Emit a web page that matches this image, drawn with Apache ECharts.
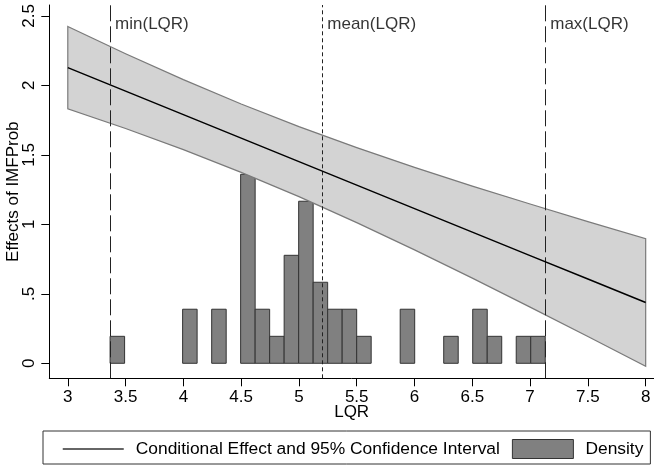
<!DOCTYPE html>
<html>
<head>
<meta charset="utf-8">
<script src="https://cdn.jsdelivr.net/npm/echarts@6/dist/echarts.min.js"></script>
<style>
html,body{margin:0;padding:0;background:#fff;}
#chart{width:654px;height:466px;}
</style>
</head>
<body>
<div id="chart"></div>
<script>
// ---- data ----
const lqrGrid  = [3, 3.5, 4, 4.5, 5, 5.5, 6, 6.5, 7, 7.5, 8];
const effect   = [2.127, 1.958, 1.789, 1.620, 1.451, 1.282, 1.113, 0.944, 0.775, 0.606, 0.437];
const ciUpper  = [2.423, 2.227, 2.041, 1.866, 1.703, 1.552, 1.410, 1.275, 1.146, 1.019, 0.896];
const ciLower  = [1.831, 1.689, 1.537, 1.374, 1.199, 1.012, 0.816, 0.613, 0.404, 0.193, -0.022];

const binLeft  = [3.366, 3.9935, 4.245, 4.4955, 4.621, 4.7465, 4.872, 4.9975, 5.123, 5.2485, 5.374, 5.4995, 5.876, 6.2525, 6.5035, 6.629, 6.88, 7.0055];
const binRight = [3.4915, 4.119, 4.3705, 4.621, 4.7465, 4.872, 4.9975, 5.123, 5.2485, 5.374, 5.4995, 5.625, 6.0015, 6.378, 6.629, 6.7545, 7.0055, 7.131];
const density  = [0.194, 0.389, 0.389, 1.360, 0.389, 0.194, 0.777, 1.166, 0.583, 0.389, 0.389, 0.194, 0.389, 0.194, 0.389, 0.194, 0.194, 0.194];

const refValues = [3.366, 5.202, 7.131];
const refLabels = ['min(LQR)', 'mean(LQR)', 'max(LQR)'];
const refLabelY = 2.44;

const xTicks      = [3, 3.5, 4, 4.5, 5, 5.5, 6, 6.5, 7, 7.5, 8];
const xTickLabels = ['3', '3.5', '4', '4.5', '5', '5.5', '6', '6.5', '7', '7.5', '8'];
const yTicks      = [0, 0.5, 1, 1.5, 2, 2.5];
const yTickLabels = ['0', '.5', '1', '1.5', '2', '2.5'];

const lineName = 'Conditional Effect and 95% Confidence Interval';
const densName = 'Density';

// ---- chart ----
const FONT = '"Liberation Sans", Arial, sans-serif';
const chart = echarts.init(document.getElementById('chart'), null, {renderer: 'canvas'});

const xLabelMap = {}; xTicks.forEach((v, i) => xLabelMap[v] = xTickLabels[i]);
const yLabelMap = {}; yTicks.forEach((v, i) => yLabelMap[v] = yTickLabels[i]);

const option = {
  animation: false,
  backgroundColor: '#fff',
  textStyle: {fontFamily: FONT},
  grid: {left: 49.3, right: 0, top: 5, bottom: 87.7, containLabel: false, outerBoundsMode: 'none'},
  xAxis: {
    type: 'value', min: 2.84, max: 8.072,
    axisLine: {show: true, onZero: false, lineStyle: {color: '#000', width: 1}},
    axisTick: {show: true, customValues: xTicks, length: 8, lineStyle: {color: '#000'}},
    axisLabel: {customValues: xTicks, formatter: v => xLabelMap[v] ?? v, fontSize: 17, color: '#000', fontFamily: FONT, margin: 11, hideOverlap: false},
    splitLine: {show: false},
    name: 'LQR', nameLocation: 'middle', nameGap: 26, nameMoveOverlap: false,
    nameTextStyle: {fontSize: 17, color: '#000', fontFamily: FONT}
  },
  yAxis: {
    type: 'value', min: -0.108, max: 2.578,
    axisLine: {show: true, onZero: false, lineStyle: {color: '#000', width: 1}},
    axisTick: {show: true, customValues: yTicks, length: 8, lineStyle: {color: '#000'}},
    axisLabel: {customValues: yTicks, formatter: v => yLabelMap[v] ?? v, rotate: 90, fontSize: 17, color: '#000', fontFamily: FONT, margin: 11},
    splitLine: {show: false},
    name: 'Effects of IMFProb', nameLocation: 'middle', nameGap: 27, nameRotate: 90, nameMoveOverlap: false,
    nameTextStyle: {fontSize: 17, color: '#000', fontFamily: FONT}
  },
  legend: {
    left: 43, top: 431,
    orient: 'horizontal',
    itemWidth: 61, itemHeight: 19, itemGap: 12,
    padding: [8, 7, 5, 19],
    borderColor: '#333', borderWidth: 1,
    selectedMode: false,
    textStyle: {fontSize: 17.4, color: '#000', fontFamily: FONT, padding: [0, 0, 0, 7]},
    data: [
      {name: lineName, itemStyle: {opacity: 0}, lineStyle: {color: '#333', width: 1.5}},
      {name: densName, icon: 'rect', itemStyle: {color: '#808080', borderColor: '#333', borderWidth: 1}}
    ]
  },
  series: [
    {
      name: densName,
      type: 'custom',
      z: 2,
      itemStyle: {color: '#808080', borderColor: '#333', borderWidth: 1},
      data: binLeft.map((l, i) => [l, binRight[i], density[i]]),
      encode: {x: [0, 1], y: 2},
      renderItem: function (params, api) {
        const p0 = api.coord([api.value(0), 0]);
        const p1 = api.coord([api.value(1), api.value(2)]);
        return {
          type: 'rect',
          shape: {x: p0[0], y: p1[1], width: p1[0] - p0[0], height: p0[1] - p1[1]},
          style: {fill: '#808080', stroke: '#333', lineWidth: 1}
        };
      }
    },
    {
      name: 'refs',
      type: 'line',
      data: [],
      z: 3,
      markLine: {
        silent: true, symbol: 'none', animation: false,
        label: {show: false},
        data: [
          {xAxis: refValues[0], lineStyle: {type: [16, 5], color: '#222', width: 1}},
          {xAxis: refValues[1], lineStyle: {type: [4, 3], color: '#222', width: 1}},
          {xAxis: refValues[2], lineStyle: {type: [16, 5], color: '#222', width: 1}}
        ]
      }
    },
    {
      name: 'refLabels',
      type: 'scatter',
      symbolSize: 0,
      z: 6,
      silent: true,
      data: refValues.map((v, i) => ({value: [v, refLabelY], label: {formatter: refLabels[i]}})),
      label: {show: true, position: 'right', distance: 5, fontSize: 17, color: '#000', fontFamily: FONT}
    },
    {
      name: 'ci',
      type: 'custom',
      z: 4,
      silent: true,
      data: lqrGrid.map((x, i) => [x, ciLower[i], ciUpper[i]]),
      encode: {x: 0, y: [1, 2]},
      renderItem: function (params, api) {
        if (params.dataIndex !== 0) return null;
        const pts = [];
        for (let i = 0; i < lqrGrid.length; i++) pts.push(api.coord([lqrGrid[i], ciUpper[i]]));
        for (let i = lqrGrid.length - 1; i >= 0; i--) pts.push(api.coord([lqrGrid[i], ciLower[i]]));
        return {
          type: 'polygon',
          shape: {points: pts},
          style: {fill: '#d3d3d3', stroke: '#7a7a7a', lineWidth: 1.2}
        };
      }
    },
    {
      name: lineName,
      type: 'line',
      z: 5,
      symbol: 'none',
      legendIcon: 'none',
      lineStyle: {color: '#000', width: 1.5},
      itemStyle: {color: '#000'},
      data: lqrGrid.map((x, i) => [x, effect[i]])
    }
  ]
};
chart.setOption(option);
</script>
</body>
</html>
